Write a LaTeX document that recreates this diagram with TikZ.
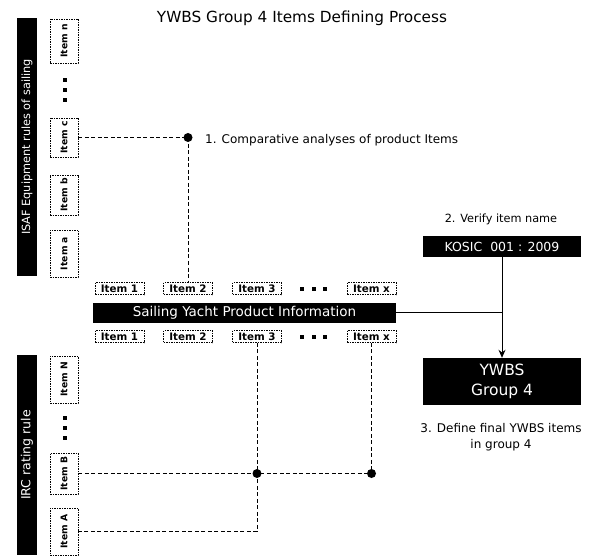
\documentclass[tikz,border=0pt]{standalone}
\usepackage{fontspec}
\setmainfont{DejaVu Sans}
\usetikzlibrary{arrows.meta}
\begin{document}
\begin{tikzpicture}[x=1pt,y=-1pt,
  itemh/.style={draw, dash pattern=on 1.5pt off 1pt, line width=0.7pt, minimum width=49pt, minimum height=12pt, inner sep=0pt, font=\fontsize{10.3}{11}\selectfont\bfseries},
  itemv/.style={draw, dash pattern=on 1.5pt off 1pt, line width=0.7pt, minimum width=28pt, minimum height=#1, inner sep=0pt, font=\fontsize{9.2}{10}\selectfont\bfseries},
  blackbox/.style={fill=black, text=white, inner sep=0pt},
  conn/.style={dash pattern=on 4pt off 2.5pt, line width=1pt},
  solidconn/.style={line width=1pt},
  lbl/.style={font=\fontsize{12}{14}\selectfont, inner sep=0pt, align=center},
  dotsq/.style={fill=black, minimum size=4pt, inner sep=0pt},
  jdot/.style={radius=4.5pt}
]
\useasboundingbox (0,0) rectangle (589,556);

% title
\node[font=\fontsize{15.3}{18}\selectfont] (title) at (302,18) {YWBS Group 4 Items Defining Process};

% ISAF bar and items
\node[blackbox, minimum width=20pt, minimum height=258pt, font=\fontsize{11.3}{13}\selectfont] (isaf) at (27,147) {\rotatebox{90}{ISAF Equipment rules of sailing}};
\node[itemv=44pt] (in) at (64,41) {\rotatebox{90}{Item n}};
\node[dotsq] (vd1) at (65,80) {};
\node[dotsq] (vd2) at (65,90) {};
\node[dotsq] (vd3) at (65,100) {};
\node[itemv=39pt] (ic) at (64,137.5) {\rotatebox{90}{Item c}};
\node[itemv=40pt] (ib) at (64,195) {\rotatebox{90}{Item b}};
\node[itemv=47pt] (ia) at (64,253.5) {\rotatebox{90}{Item a}};

% top product items
\node[itemh] (t1) at (119.5,288.5) {Item 1};
\node[itemh] (t2) at (188,288.5) {Item 2};
\node[itemh] (t3) at (257,288.5) {Item 3};
\node[dotsq] (hd1) at (302,288.5) {};
\node[dotsq] (hd2) at (313.5,288.5) {};
\node[dotsq] (hd3) at (325,288.5) {};
\node[itemh] (tx) at (371.5,288.5) {Item x};

% product bar
\node[blackbox, minimum width=303pt, minimum height=20pt, font=\fontsize{13.5}{15}\selectfont] (bar) at (244.5,312.5) {Sailing Yacht Product Information};

% bottom product items
\node[itemh] (b1) at (119.5,336.5) {Item 1};
\node[itemh] (b2) at (188,336.5) {Item 2};
\node[itemh] (b3) at (257,336.5) {Item 3};
\node[dotsq] (bd1) at (302,336.5) {};
\node[dotsq] (bd2) at (313.5,336.5) {};
\node[dotsq] (bd3) at (325,336.5) {};
\node[itemh] (bx) at (371.5,336.5) {Item x};

% IRC bar and items
\node[blackbox, minimum width=20pt, minimum height=200pt, font=\fontsize{12.5}{14}\selectfont] (irc) at (27,455) {\rotatebox{90}{IRC rating rule}};
\node[itemv=47pt] (iN) at (64,379.5) {\rotatebox{90}{Item N}};
\node[dotsq] (vd4) at (65,418) {};
\node[dotsq] (vd5) at (65,428) {};
\node[dotsq] (vd6) at (65,438) {};
\node[itemv=41pt] (iB) at (64,473.5) {\rotatebox{90}{Item B}};
\node[itemv=47pt] (iA) at (64,531.5) {\rotatebox{90}{Item A}};

% right side
\node[lbl, font=\fontsize{11.3}{13}\selectfont] (l2) at (501,219) {2. Verify item name};
\node[blackbox, minimum width=158pt, minimum height=21pt, font=\fontsize{12.5}{14}\selectfont] (kosic) at (502,246.5) {KOSIC\ \ 001 : 2009};
\node[blackbox, minimum width=158pt, minimum height=47pt, align=center, font=\fontsize{15.5}{20}\selectfont] (ywbs) at (502,381.5) {YWBS\\Group 4};
\node[lbl, font=\fontsize{12}{16}\selectfont] (l3) at (501,437) {3. Define final YWBS items\\in group 4};
\node[lbl, anchor=west] (l1) at (205,140) {1. Comparative analyses of product Items};

% connectors: step 1
\draw[conn] (ic.east) -- (ic.east -| t2.north) coordinate (j1);
\draw[conn] (j1) -- (t2.north);
\fill (j1) circle[jdot];

% connectors: step 2
\draw[solidconn] (bar.east) -- (bar.east -| kosic.south);
\draw[solidconn, -{Stealth[length=8pt,width=7pt]}] (kosic.south) -- (ywbs.north);

% connectors: IRC
\draw[conn] (iB.east) -- (iB.east -| b3.south) coordinate (j2) -- (iB.east -| bx.south) coordinate (j3);
\draw[conn] (bx.south) -- (j3);
\draw[conn] (b3.south) -- (iA.east -| b3.south) -- (iA.east);
\fill (j2) circle[jdot];
\fill (j3) circle[jdot];
\end{tikzpicture}
\end{document}
